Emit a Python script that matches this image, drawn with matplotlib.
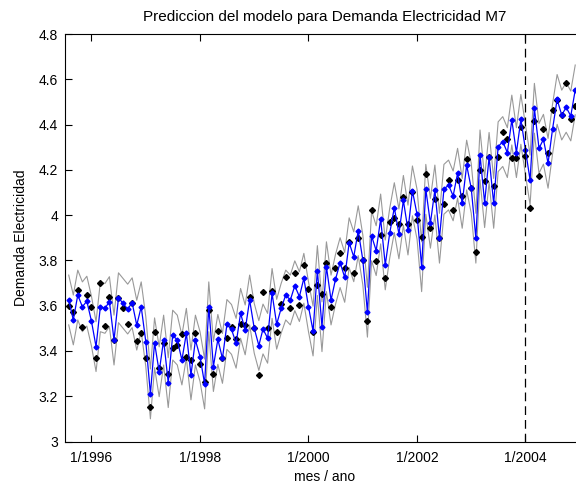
import numpy as np
import pandas as pd
import matplotlib
matplotlib.use("Agg")
import matplotlib.pyplot as plt


# =========================
# Datos: demanda mensual (ago 1995 - dic 2004)
# =========================

FIRST_MONTH = "1995-08-01"
N_MONTHS = 113
FORECAST_START = "2004-01-01"

# demanda observada
demanda_real = [
    3.598, 3.573, 3.669, 3.507, 3.647,
    3.595, 3.367, 3.698, 3.512, 3.640, 3.450, 3.632, 3.588, 3.519, 3.610, 3.445, 3.481,
    3.367, 3.151, 3.485, 3.323, 3.434, 3.298, 3.411, 3.426, 3.475, 3.375, 3.360, 3.481,
    3.341, 3.264, 3.580, 3.297, 3.488, 3.367, 3.456, 3.507, 3.453, 3.520, 3.515, 3.640,
    3.503, 3.294, 3.659, 3.500, 3.666, 3.485, 3.606, 3.725, 3.588, 3.743, 3.603, 3.779,
    3.674, 3.485, 3.691, 3.652, 3.790, 3.596, 3.765, 3.834, 3.765, 3.880, 3.746, 3.897,
    3.800, 3.534, 4.023, 3.799, 3.912, 3.721, 3.971, 3.986, 3.961, 4.078, 3.961, 4.104,
    3.980, 3.903, 4.182, 3.944, 4.070, 3.898, 4.050, 4.156, 4.023, 4.155, 4.084, 4.248,
    4.120, 3.839, 4.200, 4.150, 4.258, 4.128, 4.255, 4.369, 4.335, 4.254, 4.254, 4.390,
    4.261, 4.030, 4.417, 4.173, 4.379, 4.273, 4.464, 4.508, 4.442, 4.583, 4.425, 4.480,
]

# prediccion del modelo M7
demanda_pred = [
    3.625, 3.537, 3.647, 3.595, 3.620,
    3.532, 3.419, 3.595, 3.588, 3.618, 3.448, 3.635, 3.610, 3.585, 3.613, 3.514, 3.595,
    3.441, 3.210, 3.436, 3.308, 3.448, 3.260, 3.470, 3.448, 3.360, 3.478, 3.294, 3.448,
    3.375, 3.254, 3.595, 3.331, 3.451, 3.367, 3.517, 3.495, 3.434, 3.566, 3.493, 3.625,
    3.500, 3.424, 3.497, 3.456, 3.654, 3.518, 3.588, 3.647, 3.625, 3.688, 3.640, 3.721,
    3.596, 3.488, 3.755, 3.507, 3.772, 3.625, 3.716, 3.790, 3.725, 3.878, 3.816, 3.931,
    3.802, 3.571, 3.908, 3.843, 3.983, 3.780, 3.920, 4.033, 3.917, 4.065, 3.934, 4.107,
    4.004, 3.772, 4.114, 3.964, 4.111, 3.898, 4.114, 4.133, 4.085, 4.185, 4.052, 4.221,
    4.118, 3.898, 4.266, 4.055, 4.255, 4.052, 4.302, 4.325, 4.276, 4.420, 4.276, 4.423,
    4.288, 4.155, 4.472, 4.295, 4.335, 4.229, 4.379, 4.511, 4.442, 4.476, 4.438, 4.553,
]

# semiancho del intervalo de prediccion
INTERVALO = 0.11

tick_fechas = ["1996-01-01", "1998-01-01", "2000-01-01", "2002-01-01", "2004-01-01"]
tick_textos = ["1/1996", "1/1998", "1/2000", "1/2002", "1/2004"]
y_ticks = [3.0, 3.2, 3.4, 3.6, 3.8, 4.0, 4.2, 4.4, 4.6, 4.8]


# =========================
# Grafico
# =========================

plt.rcParams["font.family"] = ["Liberation Sans", "DejaVu Sans"]

meses = pd.date_range(FIRST_MONTH, periods=N_MONTHS, freq="MS")
pred = np.array(demanda_pred)
real = np.array(demanda_real)

fig = plt.figure(figsize=(5.76, 4.87), dpi=100)
ax = fig.add_axes([65 / 576, 45.5 / 487, 519 / 576, 407.5 / 487])

# bandas del intervalo
ax.plot(meses, pred + INTERVALO, color="0.6", lw=0.8, zorder=1)
ax.plot(meses, pred - INTERVALO, color="0.6", lw=0.8, zorder=1)

# datos reales
ax.plot(meses, real, linestyle="none", marker="D", ms=3.0,
        color="black", zorder=2)

# prediccion
ax.plot(meses, pred, color="blue", lw=0.9, marker="D", ms=2.5,
        markerfacecolor="blue", markeredgecolor="blue", zorder=3)

# inicio del periodo de pronostico
ax.axvline(pd.Timestamp(FORECAST_START), color="black", lw=0.9,
           linestyle=(0, (7, 4)), zorder=4)

ax.set_xlim(pd.Timestamp("1995-07-07"), pd.Timestamp("2005-01-29"))
ax.set_ylim(3.0, 4.8)

ax.set_xticks([pd.Timestamp(t) for t in tick_fechas])
ax.set_xticklabels(tick_textos)
ax.set_yticks(y_ticks)
ax.set_yticklabels([f"{v:g}" for v in y_ticks])

ax.tick_params(direction="in", length=5, width=0.8, top=True, right=True,
               labelsize=10, pad=5)
ax.tick_params(axis="x", pad=7)
for s in ax.spines.values():
    s.set_linewidth(0.8)

ax.set_title("Prediccion del modelo para Demanda Electricidad M7",
             fontsize=11, pad=9)
ax.set_xlabel("mes / ano", fontsize=10)
ax.set_ylabel("Demanda Electricidad", fontsize=10)
ax.xaxis.set_label_coords(0.5, -0.07)
ax.yaxis.set_label_coords(-0.072, 0.5)

fig.savefig("out.png", dpi=100)
